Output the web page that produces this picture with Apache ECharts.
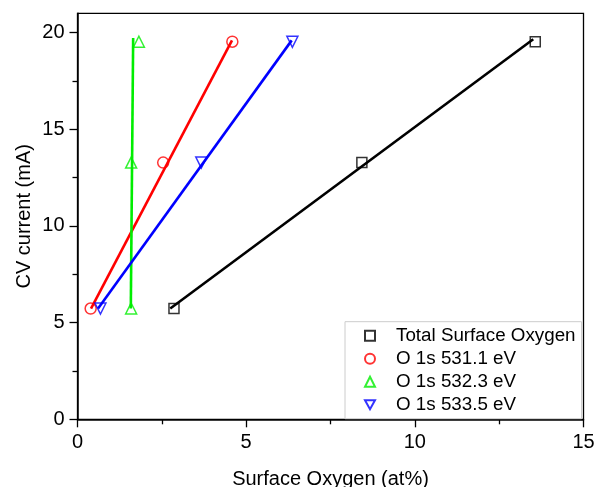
<!DOCTYPE html>
<html>
<head>
<meta charset="utf-8">
<script src="https://cdn.jsdelivr.net/npm/echarts@6/dist/echarts.min.js"></script>
<style>html,body{margin:0;padding:0;background:#fff}#c{width:597px;height:487px}</style>
</head>
<body>
<div id="c"></div>
<script>
// CV current values shared by all series (mA)
var cvCurrent = [5.73, 13.28, 19.53];
// Surface oxygen (at%) for each series
var totalOxygen = [2.86, 8.43, 13.57];
var o531 = [0.39, 2.54, 4.59];
var o532 = [1.59, 1.59, 1.82];
var o533 = [0.68, 3.67, 6.37];
// Linear fit lines: [x, y] endpoints
var fitTotal = [[2.75, 5.73], [13.51, 19.66]];
var fit531 = [[0.40, 5.73], [4.58, 19.6]];
var fit532 = [[1.58, 5.73], [1.65, 19.72]];
var fit533 = [[0.61, 5.73], [6.35, 19.6]];
var names = ['Total Surface Oxygen', 'O 1s 531.1 eV', 'O 1s 532.3 eV', 'O 1s 533.5 eV'];
var colors = ['#000000', '#ff0000', '#00ee00', '#0000ff'];
var yMajorTicks = [0, 5, 10, 15, 20];
var yMinorTicks = [2.5, 7.5, 12.5, 17.5];

function pts(xs) { return xs.map(function (x, i) { return [x, cvCurrent[i]]; }); }

var font = 'Liberation Sans, Arial, sans-serif';
var chart = echarts.init(document.getElementById('c'));
var symbols = ['rect', 'circle', 'triangle', 'path://M0,0L10,0L5,9Z'];
var sizes = [10, 11, 11, 11];
var ptsData = [totalOxygen, o531, o532, o533];
var fits = [fitTotal, fit531, fit532, fit533];
var series = [];
for (var i = 0; i < 4; i++) {
  series.push({
    type: 'line', name: 'fit' + i, data: fits[i], showSymbol: false, symbol: 'none',
    lineStyle: { color: colors[i], width: 2.6 }, itemStyle: { color: colors[i] },
    z: 2, silent: true, animation: false
  });
}
for (var j = 0; j < 4; j++) {
  series.push({
    type: 'scatter', name: names[j], data: pts(ptsData[j]),
    symbol: symbols[j], symbolSize: sizes[j],
    itemStyle: { color: 'transparent', borderColor: colors[j], borderWidth: 1.5 },
    z: 3, animation: false
  });
}
chart.setOption({
  animation: false,
  textStyle: { fontFamily: font },
  grid: { left: 77.5, right: 13.5, top: 13.3, bottom: 67.7, outerBoundsMode: 'none', containLabel: false, show: true, borderColor: '#000', borderWidth: 1.3, backgroundColor: 'transparent' },
  xAxis: {
    type: 'value', min: 0, max: 15, interval: 5,
    name: 'Surface Oxygen (at%)', nameLocation: 'middle', nameGap: 50,
    nameTextStyle: { fontSize: 20, color: '#000', fontFamily: font },
    axisLine: { lineStyle: { color: '#000', width: 1.5 } },
    axisTick: { show: true, length: 8, lineStyle: { color: '#000', width: 1.3 } },
    minorTick: { show: true, splitNumber: 2, length: 5, lineStyle: { color: '#000', width: 1.3 } },
    axisLabel: { fontSize: 20, color: '#000', margin: 13, fontFamily: font },
    splitLine: { show: false }
  },
  yAxis: [{
    type: 'value', min: 0, max: 21, interval: 5,
    name: 'CV current (mA)', nameLocation: 'middle', nameGap: 43, nameMoveOverlap: false,
    nameTextStyle: { fontSize: 20, color: '#000', fontFamily: font },
    axisLine: { lineStyle: { color: '#000', width: 1.5 } },
    axisTick: { show: true, length: 8, customValues: yMajorTicks, lineStyle: { color: '#000', width: 1.3 } },
    axisLabel: { fontSize: 20, color: '#000', margin: 13, customValues: yMajorTicks, fontFamily: font },
    splitLine: { show: false }
  }, {
    type: 'value', min: 0, max: 21, position: 'left', offset: 0,
    axisLine: { show: false },
    axisTick: { show: true, length: 5, customValues: yMinorTicks, lineStyle: { color: '#000', width: 1.3 } },
    axisLabel: { show: false },
    splitLine: { show: false }
  }],
  legend: {
    data: names, orient: 'vertical', left: 345, top: 321.7,
    padding: [4, 6, 4, 19], itemWidth: 10, itemHeight: 10, itemGap: 3,
    textStyle: { fontSize: 18.8, lineHeight: 20, color: '#000', padding: [0, 0, 0, 16], fontFamily: font },
    backgroundColor: '#fff', borderColor: '#cccccc', borderWidth: 1, borderRadius: 0,
    selectedMode: false
  },
  series: series
});
</script>
</body>
</html>
